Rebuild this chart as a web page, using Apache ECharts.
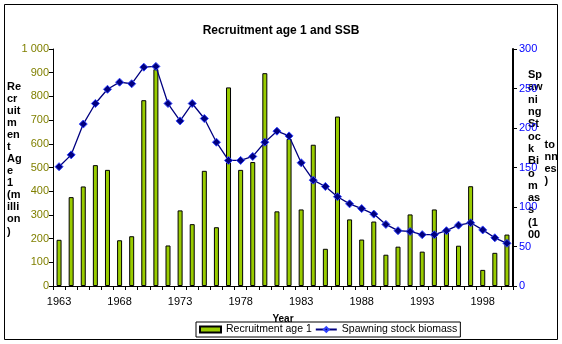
<!DOCTYPE html>
<html>
<head>
<meta charset="utf-8">
<script src="https://cdn.jsdelivr.net/npm/echarts@6/dist/echarts.min.js"></script>
<style>
html,body{margin:0;padding:0;background:#fff;}
#chart{width:562px;height:344px;}
</style>
</head>
<body>
<div id="chart"></div>
<script>
var years = ['1963','1964','1965','1966','1967','1968','1969','1970','1971','1972','1973','1974','1975','1976','1977','1978','1979','1980','1981','1982','1983','1984','1985','1986','1987','1988','1989','1990','1991','1992','1993','1994','1995','1996','1997','1998','1999','2000'];
var recruitment = [195,375,420,510,490,193,210,784,915,171,319,261,486,248,838,490,523,898,315,621,323,596,157,715,281,196,272,132,166,302,145,323,235,170,421,68,140,217];
var ssb = [151,166,205,231,249,258,256,277,278,231,209,231,212,182,159,159,164,182,196,190,156,134,126,113,104,98,91,78,70,69,65,65,70,77,80,71,61,54];
var leftNameLines = ['Re','cr','uit','m','en','t','Ag','e','1','(m','illi','on',')'];
var rightNameLines1 = ['Sp','aw','ni','ng','St','oc','k','Bi','o','m','as','s','(1','00'];
var rightNameLines2 = ['to','nn','es',')'];

var FONT = "'Liberation Sans', Arial, sans-serif";
var chart = echarts.init(document.getElementById('chart'), null, {renderer:'canvas'});
chart.setOption({
  animation: false,
  backgroundColor: '#fff',
  textStyle: {fontFamily: FONT},
  title: {
    text: 'Recruitment age 1 and SSB',
    left: 'center', top: 20,
    textStyle: {fontFamily: FONT, fontSize: 12, fontWeight: 'bold', color: '#000'}
  },
  grid: {left: 53, right: 49, top: 49, bottom: 58},
  legend: {
    left: 196, top: 322,
    padding: [2, 3, 2, 3],
    itemGap: 3,
    itemWidth: 21, itemHeight: 6,
    borderColor: '#000', borderWidth: 1,
    backgroundColor: '#fff',
    textStyle: {fontFamily: FONT, fontSize: 10.5, color: '#000'},
    data: [{name: 'Recruitment age 1', icon: 'rect'}, {name: 'Spawning stock biomass'}]
  },
  xAxis: {
    type: 'category',
    data: years,
    boundaryGap: true,
    name: 'Year',
    nameLocation: 'middle',
    nameGap: 28,
    nameTextStyle: {fontFamily: FONT, fontSize: 10, fontWeight: 'bold', color: '#000'},
    axisLine: {show: true, lineStyle: {color: '#000', width: 1}},
    axisTick: {show: true, interval: 0, length: 4, inside: false, lineStyle: {color: '#000'}},
    axisLabel: {interval: 4, margin: 10, fontSize: 11, color: '#000', fontFamily: FONT},
    splitLine: {show: false}
  },
  yAxis: [{
    type: 'value', min: 0, max: 1000, interval: 100,
    position: 'left',
    axisLine: {show: true, lineStyle: {color: '#000', width: 1}},
    axisTick: {show: true, length: 4, lineStyle: {color: '#000'}},
    axisLabel: {margin: 4, fontSize: 11, color: '#808000', fontFamily: FONT,
      formatter: function(v){ return v >= 1000 ? '1 000' : String(v); }},
    splitLine: {show: false}
  }, {
    type: 'value', min: 0, max: 300, interval: 50,
    position: 'right',
    axisLine: {show: true, lineStyle: {color: '#000', width: 2}},
    axisTick: {show: true, length: 4, lineStyle: {color: '#000'}},
    axisLabel: {margin: 6, fontSize: 11, color: '#0000ff', fontFamily: FONT},
    splitLine: {show: false}
  }],
  series: [{
    name: 'Recruitment age 1',
    type: 'bar',
    data: recruitment,
    barWidth: 5,
    itemStyle: {color: '#99cc00', borderColor: '#000', borderWidth: 1}
  }, {
    name: 'Spawning stock biomass',
    type: 'line',
    yAxisIndex: 1,
    data: ssb,
    symbol: 'diamond',
    symbolSize: 8,
    lineStyle: {color: '#000080', width: 1.3},
    itemStyle: {color: '#000080', borderColor: '#3344ff', borderWidth: 1}
  }],
  graphic: [{
    type: 'rect',
    shape: {x: 4.5, y: 4.5, width: 553, height: 335},
    style: {fill: 'none', stroke: '#000', lineWidth: 1},
    z: 100, silent: true
  }, {
    type: 'text', left: 7, top: 80.5,
    style: {text: leftNameLines.join('\n'), font: 'bold 11px ' + FONT, lineHeight: 12.08, fill: '#000'}
  }, {
    type: 'text', left: 528, top: 69,
    style: {text: rightNameLines1.join('\n'), font: 'bold 11px ' + FONT, lineHeight: 12.3, fill: '#000'}
  }, {
    type: 'text', left: 544.5, top: 139,
    style: {text: rightNameLines2.join('\n'), font: 'bold 11px ' + FONT, lineHeight: 12, fill: '#000'}
  }]
});
</script>
</body>
</html>
